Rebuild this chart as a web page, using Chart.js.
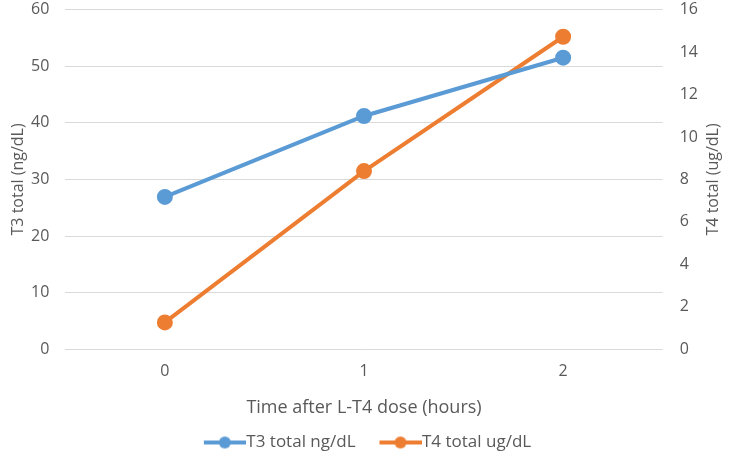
<!DOCTYPE html>
<html>
<head>
<meta charset="utf-8">
<script src="https://cdn.jsdelivr.net/npm/chart.js@4/dist/chart.umd.min.js"></script>
<style>
  html, body { margin: 0; padding: 0; background: #ffffff; }
  #wrap { width: 731px; height: 468px; }
</style>
</head>
<body>
<div id="wrap"><canvas id="chart" width="731" height="468"></canvas></div>
<script>
// data
const hours = ['0', '1', '2'];
const t3Total = [26.9, 41.2, 51.5];   // ng/dL, left axis
const t4Total = [1.26, 8.39, 14.72];  // ug/dL, right axis

const blue = '#5b9bd5';
const orange = '#ed7d31';
const textColor = '#595959';
const font = "'Open Sans', 'Liberation Sans', sans-serif";

// legend marker: line with a dot in the middle
// (left part of the image is blank so the gap between items looks right)
function legendMarker(color) {
    const c = document.createElement('canvas');
    c.width = 56;
    c.height = 14;
    const g = c.getContext('2d');
    g.strokeStyle = color;
    g.lineWidth = 4;
    g.beginPath();
    g.moveTo(14, 7);
    g.lineTo(56, 7);
    g.stroke();
    g.fillStyle = color;
    g.beginPath();
    g.arc(35, 7, 6, 0, Math.PI * 2);
    g.fill();
    return c;
}
const markers = [legendMarker(blue), legendMarker(orange)];

// axis titles, both read bottom-to-top
const axisTitles = {
    id: 'axisTitles',
    afterDraw(chart) {
        const g = chart.ctx;
        const area = chart.chartArea;
        const mid = (area.top + area.bottom) / 2;
        g.save();
        g.fillStyle = textColor;
        g.font = '16px ' + font;
        g.textAlign = 'center';
        g.textBaseline = 'middle';
        [[18, 'T3 total (ng/dL)'], [713, 'T4 total (ug/dL)']].forEach(([x, text]) => {
            g.save();
            g.translate(x, mid);
            g.rotate(-Math.PI / 2);
            g.fillText(text, 0, 0);
            g.restore();
        });
        g.restore();
    }
};

const ctx = document.getElementById('chart').getContext('2d');
new Chart(ctx, {
    type: 'line',
    data: {
        labels: hours,
        datasets: [{
            label: 'T3 total ng/dL',
            data: t3Total,
            yAxisID: 'y',
            borderColor: blue,
            backgroundColor: blue,
            borderWidth: 4,
            pointRadius: 6,
            pointBackgroundColor: blue,
            pointBorderColor: blue,
            tension: 0
        }, {
            label: 'T4 total ug/dL',
            data: t4Total,
            yAxisID: 'y1',
            borderColor: orange,
            backgroundColor: orange,
            borderWidth: 4,
            pointRadius: 6,
            pointBackgroundColor: orange,
            pointBorderColor: orange,
            tension: 0
        }]
    },
    plugins: [axisTitles],
    options: {
        responsive: false,
        animation: false,
        layout: { autoPadding: false, padding: { left: 31, right: 33, top: 0, bottom: 7 } },
        plugins: {
            legend: {
                position: 'bottom',
                labels: {
                    usePointStyle: true,
                    pointStyleWidth: 40,
                    padding: 18,
                    color: textColor,
                    font: { family: font, size: 17 },
                    generateLabels(chart) {
                        const items = Chart.defaults.plugins.legend.labels.generateLabels(chart);
                        items.forEach((item, i) => { item.pointStyle = markers[i]; });
                        return items;
                    }
                }
            },
            tooltip: { enabled: false }
        },
        scales: {
            x: {
                offset: true,
                grid: { display: false },
                border: { display: false },
                ticks: { color: textColor, font: { family: font, size: 16 }, padding: 5 },
                title: {
                    display: true,
                    text: 'Time after L-T4 dose (hours)',
                    color: textColor,
                    font: { family: font, size: 18 },
                    padding: { top: 11, bottom: -3 }
                }
            },
            y: {
                position: 'left',
                min: 0,
                max: 60,
                ticks: { stepSize: 10, color: textColor, font: { family: font, size: 16 }, padding: 0 },
                grid: { color: '#d9d9d9', drawTicks: true, tickLength: 16, tickColor: 'rgba(0,0,0,0)' },
                border: { display: false }
            },
            y1: {
                position: 'right',
                min: 0,
                max: 16,
                ticks: { stepSize: 2, color: textColor, font: { family: font, size: 16 }, padding: 0 },
                grid: { drawOnChartArea: false, drawTicks: true, tickLength: 17, tickColor: 'rgba(0,0,0,0)' },
                border: { display: false }
            }
        }
    }
});
</script>
</body>
</html>
